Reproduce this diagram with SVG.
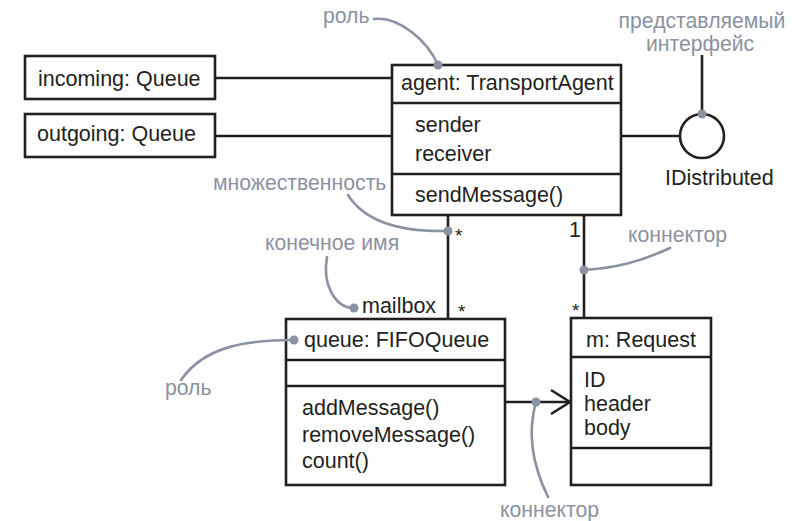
<svg xmlns="http://www.w3.org/2000/svg" width="799" height="521" viewBox="0 0 799 521">
<style>
.box{fill:#fff;stroke:#231f20;stroke-width:2.6}
.ln{fill:none;stroke:#231f20;stroke-width:2.6}
.t{font-family:"Liberation Sans",Arial,Helvetica,sans-serif;font-size:21.5px;fill:#231f20}
.s{font-family:"Liberation Sans",Arial,Helvetica,sans-serif;font-size:19px;fill:#231f20}
.g{font-family:"Liberation Sans",Arial,Helvetica,sans-serif;font-size:21.2px;fill:#8a92a2}
.gc{fill:none;stroke:#8a92a2;stroke-width:2.6;stroke-linecap:round}
.dot{fill:#8a92a2}
</style>
<rect width="799" height="521" fill="#fff"/>
<g id="connectors">
<line class="ln" x1="215" y1="78" x2="392" y2="78"/>
<line class="ln" x1="215" y1="136" x2="392" y2="136"/>
<line class="ln" x1="621" y1="136" x2="680" y2="136"/>
<line class="ln" x1="702" y1="55" x2="702" y2="114"/>
<line class="ln" x1="448" y1="215" x2="448" y2="319"/>
<line class="ln" x1="584" y1="215" x2="584" y2="318"/>
<line class="ln" x1="505" y1="402" x2="570" y2="402"/>
<polyline class="ln" points="551,390 570,402 551,414"/>
<text class="s" x="455" y="242">*</text>
<text class="s" x="458" y="318">*</text>
<text class="s" x="572" y="317">*</text>
<text class="t" x="569" y="237">1</text>
<text class="t" x="362" y="313">mailbox</text>
</g>
<g id="incoming">
<rect class="box" x="25" y="56" width="190" height="43"/>
<text class="t" x="38" y="86">incoming: Queue</text>
</g>
<g id="outgoing">
<rect class="box" x="25" y="114" width="190" height="43"/>
<text class="t" x="37" y="141">outgoing: Queue</text>
</g>
<g id="agent">
<rect class="box" x="392" y="65" width="229" height="150"/>
<line class="ln" x1="392" y1="103" x2="621" y2="103"/>
<line class="ln" x1="392" y1="174" x2="621" y2="174"/>
<text class="t" x="401" y="90">agent: TransportAgent</text>
<text class="t" x="415" y="132">sender</text>
<text class="t" x="415" y="161">receiver</text>
<text class="t" x="415" y="202">sendMessage()</text>
</g>
<g id="idistributed">
<circle cx="702" cy="136" r="22" fill="#fff" stroke="#231f20" stroke-width="2.6"/>
<text class="t" x="665" y="185">IDistributed</text>
</g>
<g id="queue">
<rect class="box" x="286" y="319" width="219" height="166"/>
<line class="ln" x1="286" y1="360" x2="505" y2="360"/>
<line class="ln" x1="286" y1="386" x2="505" y2="386"/>
<text class="t" x="304" y="347">queue: FIFOQueue</text>
<text class="t" x="302" y="415">addMessage()</text>
<text class="t" x="302" y="442">removeMessage()</text>
<text class="t" x="302" y="468">count()</text>
</g>
<g id="request">
<rect class="box" x="571" y="318" width="140" height="167"/>
<line class="ln" x1="571" y1="357" x2="711" y2="357"/>
<line class="ln" x1="571" y1="448" x2="711" y2="448"/>
<text class="t" x="586" y="347">m: Request</text>
<text class="t" x="584" y="387">ID</text>
<text class="t" x="584" y="411">header</text>
<text class="t" x="584" y="435">body</text>
</g>
<g id="annotations">
<text class="g" x="323" y="23">роль</text>
<path class="gc" d="M374,19 C400,16 428,42 438,65"/>
<circle class="dot" cx="438" cy="65" r="4.5"/>
<text class="g" x="702" y="28" text-anchor="middle">представляемый</text>
<text class="g" x="700" y="51" text-anchor="middle">интерфейс</text>
<circle class="dot" cx="702" cy="114" r="4.5"/>
<text class="g" x="213" y="190">множественность</text>
<path class="gc" d="M348,195 C365,222 400,232 447,231"/>
<circle class="dot" cx="448" cy="231" r="4.5"/>
<text class="g" x="265" y="250">конечное имя</text>
<path class="gc" d="M327,257 C322,285 335,307 353,308"/>
<circle class="dot" cx="354" cy="308" r="4.5"/>
<text class="g" x="165" y="395">роль</text>
<path class="gc" d="M181,380 C205,345 250,340 294,340"/>
<circle class="dot" cx="294" cy="340" r="4.5"/>
<text class="g" x="628" y="242">коннектор</text>
<path class="gc" d="M670,248 C640,262 615,268 584,270"/>
<circle class="dot" cx="584" cy="270" r="4.5"/>
<text class="g" x="500" y="517">коннектор</text>
<path class="gc" d="M548,497 C530,460 528,430 536,402"/>
<circle class="dot" cx="536" cy="402" r="4.5"/>
</g>
</svg>
